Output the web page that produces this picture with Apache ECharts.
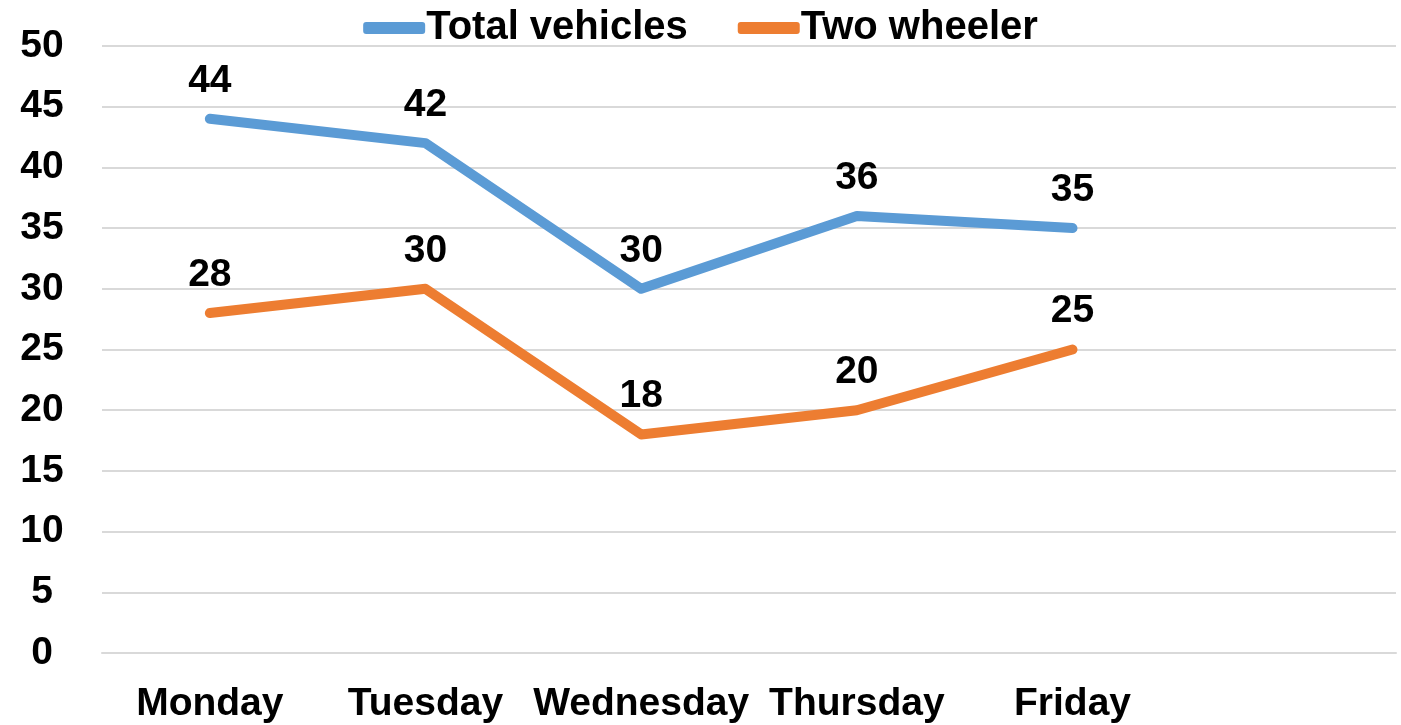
<!DOCTYPE html>
<html><head><meta charset="utf-8">
<script src="https://cdn.jsdelivr.net/npm/echarts@6/dist/echarts.min.js"></script>
<style>html,body{margin:0;padding:0;background:#fff}#c{width:1401px;height:725px}</style>
</head><body><div id="c"></div>
<script>
const categories = ['Monday','Tuesday','Wednesday','Thursday','Friday',''];
const totalVehicles = [44,42,30,36,35];
const twoWheeler = [28,30,18,20,25];
const seriesNames = ['Total vehicles','Two wheeler'];
const colors = ['#5B9BD5','#ED7D31'];
const font = 'Liberation Sans, Arial, sans-serif';
const chart = echarts.init(document.getElementById('c'));
function mk(name, data, color){
  return {
    name, type:'line', data, symbol:'circle', symbolSize:1,
    itemStyle:{color},
    lineStyle:{color, width:10, cap:'round', join:'round'},
    label:{show:true, position:'top', distance:18, color:'#000', fontFamily:font, fontWeight:'bold', fontSize:39},
    emphasis:{disabled:true}, animation:false
  };
}
chart.setOption({
  animation:false,
  color: colors,
  legend:{
    top:3, left:'center', itemWidth:62, itemHeight:12, itemGap:50,
    icon:'roundRect',
    textStyle:{color:'#000', fontFamily:font, fontWeight:'bold', fontSize:40, padding:[0,0,0,-4]},
    data:[{name:seriesNames[0], itemStyle:{color:colors[0]}},{name:seriesNames[1], itemStyle:{color:colors[1]}}]
  },
  grid:{left:102, right:5, top:46, bottom:72, containLabel:false},
  xAxis:{
    type:'category', data:categories, boundaryGap:true,
    axisLine:{show:true, lineStyle:{color:'#d9d9d9', width:2}},
    axisTick:{show:false},
    axisLabel:{color:'#000', fontFamily:font, fontWeight:'bold', fontSize:39, margin:32, interval:0}
  },
  yAxis:{
    type:'value', min:0, max:50, interval:5,
    axisLine:{show:false}, axisTick:{show:false},
    splitLine:{lineStyle:{color:'#d9d9d9', width:2}},
    axisLabel:{color:'#000', fontFamily:font, fontWeight:'bold', fontSize:39, margin:60, align:'center', padding:[15,0,0,0]}
  },
  series:[mk(seriesNames[0], totalVehicles, colors[0]), mk(seriesNames[1], twoWheeler, colors[1])]
});
</script></body></html>
